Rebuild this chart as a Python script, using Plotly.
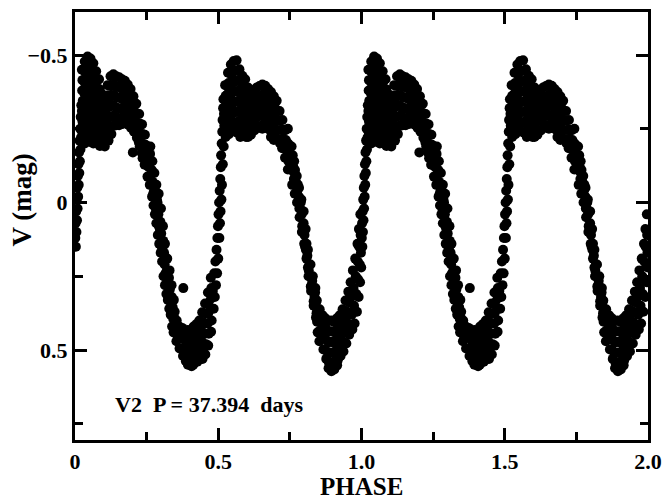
import plotly.graph_objects as go

# Phase-folded V light curve of V2 (P = 37.394 d).
# Each entry: (phase x 1000, V magnitude x 1000) over one cycle 0..1.

RISE_START = [
    (1, 120), (2, 70), (3, 150), (4, 30), (5, 100), (6, -10), (7, 60), (8, -50),
    (9, 20), (10, -90), (11, -20), (12, -130), (13, -60), (14, -170), (15, -100),
    (16, -210), (17, -140), (18, -250), (19, -180), (20, -290), (21, -220), (22, -330),
]

PEAK_1 = [
    (24, -450), (26, -415), (25, -380), (27, -345), (24, -310), (26, -275), (25, -240), (27, -205),
    (34, -478), (36, -440), (35, -405), (33, -370), (36, -335), (34, -300), (35, -265), (37, -230), (34, -200),
    (44, -495), (46, -460), (45, -425), (43, -390), (46, -355), (44, -320), (45, -285), (47, -250), (44, -215),
    (54, -488), (56, -452), (55, -418), (53, -382), (56, -348), (54, -312), (55, -278), (57, -242), (54, -205),
    (64, -472), (66, -437), (65, -402), (63, -367), (66, -332), (64, -297), (65, -262), (67, -228), (64, -200),
    (74, -445), (76, -410), (75, -375), (73, -340), (76, -305), (74, -270), (75, -235), (77, -202),
    (84, -418), (86, -384), (85, -350), (83, -316), (86, -282), (84, -248), (85, -214), (87, -192),
    (94, -368), (96, -334), (95, -300), (93, -266), (96, -232), (94, -196),
    (104, -340), (106, -310), (105, -280), (103, -250), (106, -220), (104, -190),
    (114, -398), (116, -364), (115, -330), (113, -296), (116, -262), (114, -228), (117, -210),
    (124, -428), (126, -394), (125, -360), (123, -326), (126, -292), (124, -258), (127, -232),
    (134, -435), (136, -400), (135, -365), (133, -330), (136, -295), (134, -260),
    (144, -428), (146, -393), (145, -358), (143, -323), (146, -288), (144, -262),
    (154, -425), (156, -390), (155, -355), (153, -320), (156, -285), (154, -262),
    (164, -418), (166, -384), (165, -350), (163, -316), (166, -282), (164, -266),
    (174, -413), (176, -378), (175, -343), (173, -308), (176, -275),
    (184, -400), (186, -366), (185, -332), (183, -298), (186, -264),
    (194, -385), (196, -352), (195, -319), (193, -286), (196, -253),
    (204, -360), (206, -328), (205, -296), (203, -264), (206, -240),
    (214, -335), (216, -303), (215, -271), (213, -240), (216, -220),
    (224, -300), (226, -268), (225, -236), (223, -204), (226, -190),
    (234, -265), (236, -232), (235, -200), (233, -168), (236, -150),
    (244, -230), (246, -196), (245, -162), (243, -128),
    (254, -190), (256, -156), (255, -122), (253, -88),
    (202, -170),
]

FALL_1 = [
    (259, -120), (262, -165), (264, -95), (266, -140), (268, -110), (271, -70), (273, -30),
    (276, -40), (278, -55), (281, -15), (283, 25), (286, -10), (288, 0), (291, 40), (293, 80),
    (296, 90), (298, 65), (301, 105), (303, 150), (306, 150), (308, 130), (311, 170), (313, 210),
    (316, 240), (318, 190), (321, 230), (323, 270), (326, 280), (328, 255), (331, 295), (333, 335),
    (336, 340), (338, 320), (341, 355), (343, 395), (346, 390), (348, 370), (351, 410), (353, 445),
    (261, -60), (269, -20), (274, 10), (279, 40), (284, 70), (289, 110), (294, 140), (299, 170),
    (304, 200), (309, 250), (314, 280), (319, 310), (324, 330), (329, 360), (334, 380),
    (339, 420), (344, 440),
    (263, -190), (270, -140), (277, -100), (284, -60), (292, -30), (300, 20), (307, 80),
    (314, 140), (322, 190), (330, 230), (337, 280), (345, 330),
]

MIN_1 = [
    (355, 400), (357, 435), (354, 470),
    (364, 420), (366, 455), (365, 495),
    (374, 425), (376, 460), (375, 495), (377, 520),
    (384, 440), (386, 470), (385, 505), (387, 538),
    (394, 432), (396, 465), (395, 498), (397, 530), (394, 550),
    (404, 442), (406, 475), (405, 508), (403, 540), (407, 555),
    (414, 420), (416, 455), (415, 490), (417, 522), (413, 550),
    (424, 412), (426, 445), (425, 478), (423, 510), (427, 540),
    (434, 400), (436, 432), (435, 465), (433, 498), (437, 530),
    (444, 372), (446, 405), (445, 440), (443, 472), (447, 505), (445, 530),
    (454, 342), (456, 376), (455, 410), (453, 445), (457, 480), (455, 515),
    (464, 305), (466, 340), (465, 375), (463, 410), (467, 445), (465, 485),
    (474, 255), (476, 290), (475, 325), (473, 360), (477, 400), (475, 438),
    (378, 290),
]

RISE_1 = [
    (481, 300), (484, 360), (486, 240), (488, 320), (490, 200), (492, 280), (494, 160),
    (496, 240), (497, 120), (499, 80), (500, 190), (501, 40), (503, 0), (504, 120),
    (505, -40), (506, 70), (507, -80), (508, 30), (509, -120), (510, -160), (511, -10),
    (512, -200), (513, -60), (514, -240), (515, -280), (516, -130), (517, -320),
    (518, -350), (519, -190), (521, -260), (520, -300),
]

PEAK_2 = [
    (524, -398), (526, -362), (525, -326), (527, -290), (524, -254), (526, -222),
    (534, -440), (536, -405), (535, -370), (533, -335), (536, -300), (534, -265), (537, -232),
    (544, -468), (546, -433), (545, -398), (543, -363), (546, -328), (544, -293), (545, -258), (547, -240),
    (554, -480), (556, -445), (555, -410), (553, -375), (556, -340), (554, -305), (555, -270), (557, -242),
    (564, -482), (566, -447), (565, -412), (563, -377), (566, -342), (564, -307), (565, -272), (567, -237),
    (574, -452), (576, -417), (575, -382), (573, -347), (576, -312), (574, -277), (575, -242), (577, -222),
    (584, -430), (586, -396), (585, -362), (583, -328), (586, -294), (584, -260), (587, -226),
    (594, -418), (596, -384), (595, -350), (593, -316), (596, -282), (594, -248), (597, -222),
    (604, -390), (606, -356), (605, -322), (603, -288), (606, -254), (604, -222),
    (614, -372), (616, -340), (615, -308), (613, -276), (616, -244), (614, -230),
    (624, -380), (626, -346), (625, -312), (623, -278), (626, -244),
    (634, -390), (636, -356), (635, -322), (633, -288), (636, -254),
    (644, -395), (646, -361), (645, -327), (643, -293), (646, -259),
    (654, -400), (656, -366), (655, -332), (653, -298), (656, -264), (654, -250),
    (664, -396), (666, -362), (665, -328), (663, -294), (666, -260),
    (674, -385), (676, -351), (675, -317), (673, -283), (676, -249),
    (684, -375), (686, -341), (685, -307), (683, -273), (686, -239), (684, -222),
    (694, -360), (696, -327), (695, -294), (693, -261), (696, -228), (694, -212),
    (704, -345), (706, -312), (705, -279), (703, -246), (706, -213),
    (714, -310), (716, -278), (715, -246), (713, -214), (716, -200),
    (724, -280), (726, -248), (725, -216), (723, -184),
    (734, -245), (736, -212), (735, -180), (733, -152),
    (744, -200), (746, -170), (745, -140), (743, -112),
    (743, -250),
]

FALL_2 = [
    (752, -190), (754, -150), (757, -110), (760, -160), (762, -120), (764, -80), (766, -100),
    (768, -110), (771, -70), (773, -30), (776, -40), (778, -60), (781, -20), (783, 20),
    (786, 20), (788, 0), (791, 40), (793, 80), (796, 90), (798, 70), (801, 110), (803, 150),
    (806, 160), (808, 140), (811, 180), (813, 220), (816, 230), (818, 210), (821, 250),
    (823, 285), (826, 280), (828, 265), (831, 300), (833, 335), (836, 320), (838, 305),
    (841, 340), (843, 375),
    (756, -190), (765, -140), (774, -90), (782, -50), (790, -10), (798, 30), (805, 90),
    (813, 160), (822, 210), (830, 250), (839, 290),
    (758, -60), (767, -30), (775, 0), (784, 50), (792, 100), (800, 140), (808, 190),
    (815, 250), (824, 300), (833, 350), (841, 390),
]

MIN_2 = [
    (844, 332), (846, 368), (845, 404), (847, 440),
    (854, 362), (856, 398), (855, 434), (853, 470),
    (864, 382), (866, 418), (865, 454), (867, 498),
    (874, 392), (876, 428), (875, 464), (873, 498), (877, 530),
    (884, 402), (886, 438), (885, 474), (883, 510), (887, 545), (885, 562),
    (894, 400), (896, 436), (895, 472), (893, 508), (897, 542), (895, 572),
    (904, 404), (906, 440), (905, 476), (903, 512), (907, 546), (905, 566),
    (914, 392), (916, 428), (915, 464), (913, 500), (917, 535), (915, 552),
    (924, 382), (926, 418), (925, 454), (923, 488), (927, 520),
    (934, 362), (936, 398), (935, 434), (933, 470), (937, 505),
    (944, 332), (946, 368), (945, 404), (943, 440), (947, 478),
    (954, 302), (956, 338), (955, 374), (953, 410), (957, 448),
]

RISE_END = [
    (962, 270), (964, 320), (966, 380), (968, 430),
    (970, 230), (972, 290), (974, 350), (976, 410),
    (978, 190), (980, 250), (982, 310), (984, 370),
    (986, 140), (987, 200), (988, 260), (990, 320),
    (991, 90), (992, 150), (994, 210), (995, 270),
    (996, 40), (997, 110), (998, 170), (999, 220),
]

SEGMENTS = [RISE_START, PEAK_1, FALL_1, MIN_1, RISE_1, PEAK_2, FALL_2, MIN_2, RISE_END]

X_TICKS = [0, 0.5, 1.0, 1.5, 2.0]
X_TICK_TEXT = ["0", "0.5", "1.0", "1.5", "2.0"]
X_MINOR = [0.25, 0.75, 1.25, 1.75]
Y_TICKS = [-0.5, 0, 0.5]
Y_TICK_TEXT = ["\u22120.5", "0", "0.5"]
Y_MINOR = [-0.25, 0.25, 0.75]

LABEL = "V2\u00a0\u00a0P = 37.394\u00a0\u00a0days"
X_TITLE = "PHASE"
Y_TITLE = "V (mag)"

phase = [p / 1000 for seg in SEGMENTS for p, _ in seg]
vmag = [m / 1000 for seg in SEGMENTS for _, m in seg]

# Plot two cycles: the folded data and its copy shifted by one in phase.
xs = phase + [p + 1 for p in phase]
ys = vmag + vmag

SERIF = "Liberation Serif, Times New Roman, serif"

fig = go.Figure()
fig.add_trace(go.Scatter(
    x=xs, y=ys, mode="markers",
    marker=dict(color="black", size=10, line=dict(width=0)),
    showlegend=False, hoverinfo="skip",
))

axis_common = dict(
    showline=True, linecolor="black", linewidth=3, mirror="allticks",
    ticks="inside", ticklen=12, tickwidth=2.5, tickcolor="black",
    showgrid=False, zeroline=False, automargin=False,
    tickfont=dict(family=SERIF, size=22, color="black", weight="bold"),
)

fig.update_xaxes(
    range=[0, 2], tickvals=X_TICKS, ticktext=X_TICK_TEXT,
    minor=dict(ticks="inside", ticklen=8, tickwidth=2.5, tickcolor="black",
               tickvals=X_MINOR),
    **axis_common,
)
fig.update_yaxes(
    range=[0.805, -0.646], tickvals=Y_TICKS, ticktext=Y_TICK_TEXT,
    minor=dict(ticks="inside", ticklen=8, tickwidth=2.5, tickcolor="black",
               tickvals=Y_MINOR),
    **axis_common,
)

# Axis titles drawn as annotations so they sit where the frame needs them.
fig.add_annotation(
    x=0.5, y=-0.107, xref="paper", yref="paper", xanchor="center", yanchor="middle",
    height=22, text=X_TITLE, showarrow=False,
    font=dict(family=SERIF, size=25, color="black", weight="bold"),
)
fig.add_annotation(
    x=-0.092, y=0.56, xref="paper", yref="paper", xanchor="center", yanchor="middle",
    text=Y_TITLE, textangle=-90, showarrow=False,
    font=dict(family=SERIF, size=27, color="black", weight="bold"),
)
fig.add_annotation(
    x=0.133, y=0.686, xref="x", yref="y", xanchor="left", yanchor="middle",
    text=LABEL, showarrow=False,
    font=dict(family=SERIF, size=22, color="black", weight="bold"),
)

fig.update_layout(
    width=662, height=499,
    margin=dict(l=75, r=14, t=12, b=59),
    paper_bgcolor="white", plot_bgcolor="white",
)

fig.write_html("out.html")
